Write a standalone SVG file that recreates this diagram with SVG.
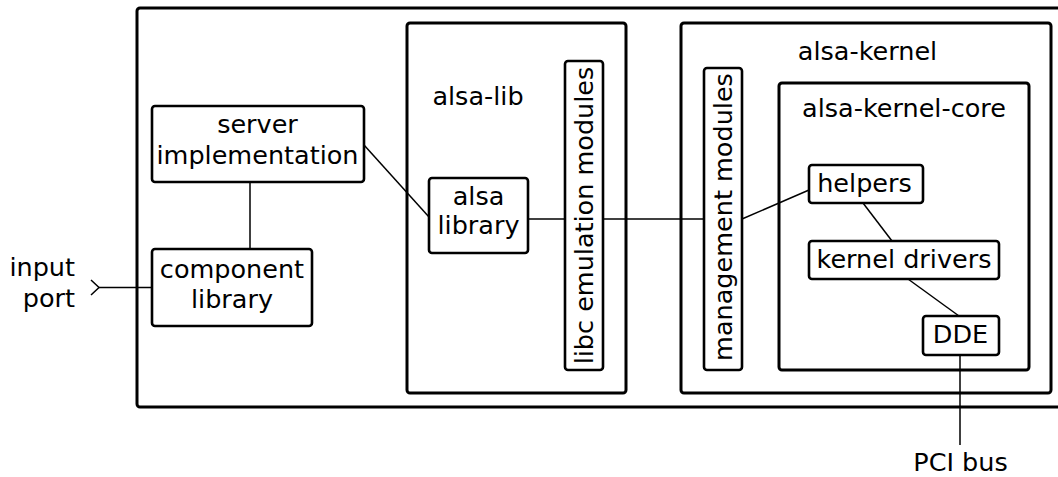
<svg xmlns="http://www.w3.org/2000/svg" width="1058" height="477" viewBox="0 0 1058 477">
  <style>
    .box { fill: #fff; stroke: #000; stroke-width: 3; }
    .sbox { fill: #fff; stroke: #000; stroke-width: 2.6; }
    .lbl { font-family: "DejaVu Sans", "Liberation Sans", sans-serif; font-size: 25.5px; fill: #000; text-anchor: middle; }
    .end { text-anchor: end; }
    .wire { fill: none; stroke: #000; stroke-width: 1.5; }
  </style>
  <rect width="1058" height="477" fill="#fff"/>

  <!-- enclosing component -->
  <g id="outer">
    <rect class="box" x="137" y="8" width="940" height="399" rx="3"/>
  </g>

  <!-- containers -->
  <g id="alsa-lib">
    <rect class="box" x="407" y="23" width="219" height="370" rx="3"/>
    <text class="lbl" x="478" y="105">alsa-lib</text>
  </g>
  <g id="alsa-kernel">
    <rect class="box" x="681" y="23" width="370" height="370" rx="3"/>
    <text class="lbl" x="867.5" y="60">alsa-kernel</text>
  </g>
  <g id="alsa-kernel-core">
    <rect class="box" x="779" y="83" width="250" height="287" rx="3"/>
    <text class="lbl" x="904" y="117">alsa-kernel-core</text>
  </g>

  <!-- connectors -->
  <g id="connectors">
    <path class="wire" d="M250 182 V249"/>
    <path class="wire" d="M91 280 L99 287.5 L91 295"/>
    <path class="wire" d="M99 287.5 H152"/>
    <path class="wire" d="M364 145 L429 217"/>
    <path class="wire" d="M528 219 H704"/>
    <path class="wire" d="M742 219 L809 190"/>
    <path class="wire" d="M863 203 L892 241"/>
    <path class="wire" d="M908 279 L959 316"/>
    <path class="wire" d="M960 355 V445"/>
  </g>

  <!-- nodes -->
  <g id="server-implementation">
    <rect class="sbox" x="152" y="106" width="212" height="76" rx="3"/>
    <text class="lbl" x="257.5" y="132.5">server</text>
    <text class="lbl" x="257.5" y="163.5">implementation</text>
  </g>
  <g id="component-library">
    <rect class="sbox" x="152" y="249" width="160" height="77" rx="3"/>
    <text class="lbl" x="232" y="277.5">component</text>
    <text class="lbl" x="232" y="308">library</text>
  </g>
  <g id="alsa-library">
    <rect class="sbox" x="429" y="178" width="99" height="75" rx="3"/>
    <text class="lbl" x="478.5" y="205">alsa</text>
    <text class="lbl" x="478.5" y="234">library</text>
  </g>
  <g id="libc-emulation-modules">
    <rect class="sbox" x="565" y="61" width="38" height="309" rx="3"/>
    <text class="lbl" transform="translate(592.5 215.5) rotate(-90)">libc emulation modules</text>
  </g>
  <g id="management-modules">
    <rect class="sbox" x="704" y="68" width="38" height="302" rx="3"/>
    <text class="lbl" transform="translate(731.5 217) rotate(-90)">management modules</text>
  </g>
  <g id="helpers">
    <rect class="sbox" x="809" y="165" width="114" height="38" rx="3"/>
    <text class="lbl" x="864.5" y="192">helpers</text>
  </g>
  <g id="kernel-drivers">
    <rect class="sbox" x="809" y="241" width="190" height="38" rx="3"/>
    <text class="lbl" x="904" y="268">kernel drivers</text>
  </g>
  <g id="dde">
    <rect class="sbox" x="923" y="316" width="76" height="39" rx="3"/>
    <text class="lbl" x="960.5" y="343">DDE</text>
  </g>

  <!-- external endpoints -->
  <g id="input-port">
    <text class="lbl end" x="75" y="276">input</text>
    <text class="lbl end" x="75" y="307">port</text>
  </g>
  <g id="pci-bus">
    <text class="lbl" x="960.5" y="471">PCI bus</text>
  </g>
</svg>
